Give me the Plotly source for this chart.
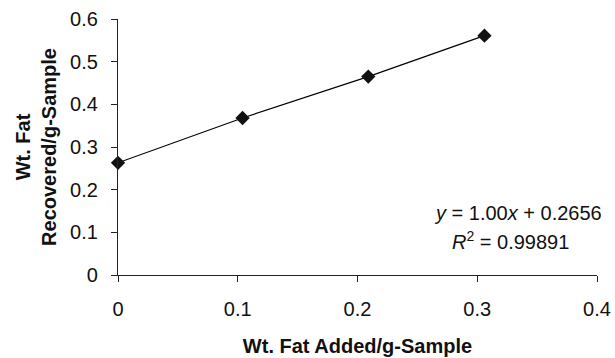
import plotly.graph_objects as go

# Data
fat_added = [0.0, 0.104, 0.209, 0.306]
fat_recovered = [0.263, 0.368, 0.465, 0.561]
slope = 1.00
intercept = 0.2656
r_squared = 0.99891
x_ticks = [0, 0.1, 0.2, 0.3, 0.4]
y_ticks = [0, 0.1, 0.2, 0.3, 0.4, 0.5, 0.6]

FONT = "Liberation Sans, Arial, sans-serif"

fig = go.Figure()
# linear trendline drawn through the measured points
fig.add_trace(go.Scatter(x=fat_added, y=fat_recovered, mode="lines",
                         line=dict(color="black", width=1.2), showlegend=False))
fig.add_trace(go.Scatter(x=fat_added, y=fat_recovered, mode="markers",
                         marker=dict(symbol="diamond", size=11, color="#111111"),
                         showlegend=False, cliponaxis=False))

fig.add_annotation(x=0.334, y=0.145, xref="x", yref="y", xanchor="center", yanchor="middle",
                   text=f"<i>y</i> = {slope:.2f}<i>x</i> + {intercept}", showarrow=False,
                   font=dict(family=FONT, size=20, color="#111111"))
fig.add_annotation(x=0.328, y=0.082, xref="x", yref="y", xanchor="center", yanchor="middle",
                   text=f"<i>R</i><sup>2</sup> = {r_squared}", showarrow=False,
                   font=dict(family=FONT, size=20, color="#111111"))

fig.update_layout(
    width=615, height=358,
    margin=dict(l=118, r=18, t=19, b=83),
    paper_bgcolor="white", plot_bgcolor="white",
    font=dict(family=FONT, size=20, color="#111111"),
    xaxis=dict(range=[0, 0.4], tickvals=x_ticks, ticktext=["0", "0.1", "0.2", "0.3", "0.4"],
               showgrid=False, zeroline=False, showline=True, linecolor="#222222", linewidth=1.2,
               ticks="outside", ticklen=6, tickcolor="#222222", ticklabelstandoff=10,
               automargin=False,
               title=dict(text="<b>Wt. Fat Added/g-Sample</b>", standoff=19,
                          font=dict(family=FONT, size=20))),
    yaxis=dict(range=[0, 0.6], tickvals=y_ticks, ticktext=["0", "0.1", "0.2", "0.3", "0.4", "0.5", "0.6"],
               showgrid=False, zeroline=False, showline=True, linecolor="#222222", linewidth=1.2,
               ticks="outside", ticklen=6, tickcolor="#222222", ticklabelstandoff=9,
               automargin=False,
               title=dict(text="<b>Wt. Fat<br>Recovered/g-Sample</b>", standoff=8,
                          font=dict(family=FONT, size=20))),
)

fig.write_html("out.html", config={"displayModeBar": False},
               post_script="document.body.style.margin='0';document.body.style.overflow='hidden';")
